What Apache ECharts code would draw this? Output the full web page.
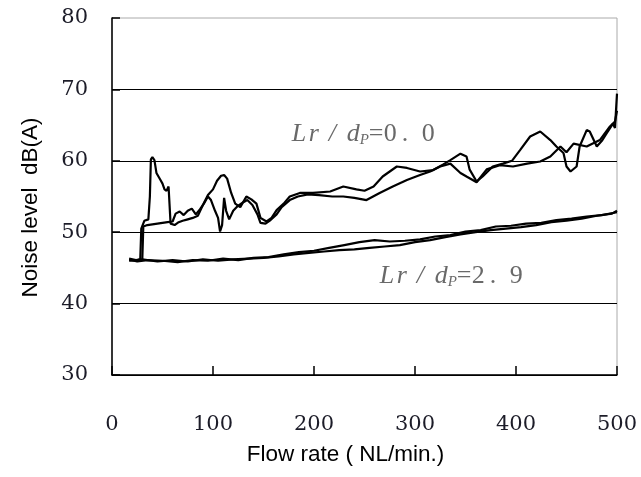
<!DOCTYPE html>
<html>
<head>
<meta charset="utf-8">
<script src="https://cdn.jsdelivr.net/npm/echarts@6/dist/echarts.min.js"></script>
<style>html,body{margin:0;padding:0;background:#fff;}#c{width:641px;height:477px;}</style>
</head>
<body>
<div id="c"></div>
<script>
// Lr/dP = 0.0, run 1
const upper1 = [[17,46.1],[24,46.0],[28,46.3],[29,50.5],[32,51.6],[36,51.8],[37.5,55],[38.5,60.2],[40,60.5],[42,60.1],[44,58.3],[46,57.8],[48,57.3],[50,56.8],[52,56.0],[54,55.8],[56,56.4],[57.5,56.5],[58,51.2],[62,51.0],[66,51.4],[70,51.6],[75,51.8],[80,52.0],[85,52.3],[90,53.8],[95,55.2],[100,56.0],[104,57.2],[108,57.9],[111,58.0],[114,57.5],[118,55.5],[122,54.0],[127,53.5],[133,55.0],[138,54.6],[143,54.0],[147,52.0],[153,51.5],[158,52.0],[163,53.1],[170,54.0],[176,55.0],[186,55.5],[199,55.5],[216,55.7],[229,56.4],[242,56.0],[250,55.8],[259,56.4],[268,57.8],[282,59.2],[292,59.0],[305,58.5],[318,58.7],[328,59.5],[335,60.1],[345,61.0],[351,60.6],[354,58.8],[361,57.1],[367,57.8],[377,59.2],[387,59.6],[396,60.0],[404,61.5],[414,63.4],[424,64.1],[434,62.9],[440,62.0],[447,61.1],[450,59.2],[454,58.5],[460,59.2],[463,62.0],[470,64.3],[473,64.1],[480,62.0],[485,62.8],[490,63.9],[496,65.2],[498,64.6],[500,69.4]];
// Lr/dP = 0.0, run 2
const upper2 = [[17,46.3],[27,46.0],[30,46.2],[31,50.8],[35,51.0],[45,51.2],[55,51.4],[60,51.5],[63,52.6],[67,52.9],[71,52.4],[75,53.0],[79,53.3],[83,52.5],[87,53.2],[91,54.0],[95,55.0],[98,54.5],[102,53.0],[105,52.0],[107,50.1],[109,51.0],[111,54.8],[113,53.0],[116,51.8],[120,53.0],[124,53.6],[130,54.2],[134,54.5],[139,53.8],[144,52.5],[147,51.3],[152,51.2],[157,51.7],[163,52.5],[168,53.5],[176,54.5],[184,55.0],[194,55.3],[205,55.2],[218,55.0],[229,55.0],[240,54.8],[252,54.5],[265,55.5],[278,56.4],[292,57.3],[305,58.0],[315,58.5],[325,59.2],[335,59.6],[345,58.3],[351,57.8],[361,57.0],[371,58.8],[384,59.4],[397,59.2],[411,59.6],[424,59.9],[434,60.6],[444,62.0],[450,61.2],[457,62.4],[470,62.0],[483,62.9],[493,64.8],[498,65.5],[500,67.0]];
// Lr/dP = 2.9, run 1
const lower1 = [[17,46.2],[25,45.9],[35,46.1],[50,46.0],[65,45.8],[80,46.1],[95,46.0],[110,46.3],[125,46.1],[140,46.4],[155,46.5],[170,46.9],[185,47.2],[200,47.4],[215,47.8],[230,48.2],[245,48.6],[260,48.9],[275,48.7],[290,48.8],[305,49.0],[320,49.4],[335,49.6],[350,50.1],[365,50.3],[380,50.8],[395,50.9],[410,51.2],[425,51.3],[440,51.7],[455,51.9],[470,52.2],[485,52.4],[500,52.8]];
// Lr/dP = 2.9, run 2
const lower2 = [[17,46.0],[30,46.2],[45,45.9],[60,46.1],[75,45.9],[90,46.2],[105,46.0],[120,46.2],[135,46.3],[150,46.4],[165,46.6],[180,46.9],[195,47.1],[210,47.3],[225,47.5],[240,47.6],[255,47.8],[270,48.0],[285,48.2],[300,48.6],[315,48.9],[330,49.3],[345,49.7],[360,50.0],[375,50.3],[390,50.5],[405,50.7],[420,51.0],[435,51.4],[450,51.6],[465,51.9],[480,52.3],[495,52.6],[500,53.0]];
// annotation anchors (data units) and label values
const annotations = [
  {pos: [178, 63.7], value: ['0', '0']},
  {pos: [265, 43.8], value: ['2', '9']}
];
const xTicks = [0, 100, 200, 300, 400, 500];
const yTicks = [30, 40, 50, 60, 70, 80];

const chart = echarts.init(document.getElementById('c'));
const lineStyle = {color: '#000', width: 2.2};
const mkLine = (d) => ({type: 'line', data: d, showSymbol: false, symbol: 'none', lineStyle: lineStyle, animation: false, z: 3});

const serif = 'Liberation Serif';
const annColor = '#444';
const tok = (w, extra) => Object.assign({fontFamily: serif, fontSize: 26, color: annColor, width: w}, extra || {});

chart.setOption({
  animation: false,
  grid: {left: 112, right: 24, top: 18, bottom: 102, show: true, borderColor: '#aaa', borderWidth: 1},
  xAxis: {
    type: 'value', min: xTicks[0], max: xTicks[xTicks.length - 1], interval: 100,
    name: 'Flow rate ( NL/min.)', nameLocation: 'middle', nameGap: 68,
    nameTextStyle: {fontFamily: 'Liberation Sans', fontSize: 22.5, color: '#000', padding: [0, 38, 0, 0]},
    axisLine: {show: true, lineStyle: {color: '#000', width: 1.5}},
    axisTick: {show: true, inside: true, length: 9, lineStyle: {color: '#000', width: 1.5}},
    axisLabel: {margin: 39, fontFamily: 'DejaVu Serif', fontSize: 21, color: '#1c1c28'},
    splitLine: {show: false}
  },
  yAxis: {
    type: 'value', min: yTicks[0], max: yTicks[yTicks.length - 1], interval: 10,
    name: 'Noise level  dB(A)', nameLocation: 'middle', nameGap: 70,
    nameTextStyle: {fontFamily: 'Liberation Sans', fontSize: 22.5, color: '#000', padding: [0, 22, 0, 0]},
    axisLine: {show: true, lineStyle: {color: '#000', width: 1.5}},
    axisTick: {show: true, inside: true, length: 8, lineStyle: {color: '#000', width: 1.5}},
    axisLabel: {margin: 24, fontFamily: 'DejaVu Serif', fontSize: 21, color: '#1c1c28'},
    splitLine: {show: true, showMaxLine: false, lineStyle: {color: '#000', width: 1}}
  },
  series: [
    mkLine(upper1), mkLine(upper2), mkLine(lower1), mkLine(lower2),
    {
      type: 'scatter', symbolSize: 0, silent: true, z: 5,
      data: annotations.map(a => ({value: a.pos, v: a.value})),
      label: {
        show: true, position: 'right', distance: 0,
        formatter: (p) => '{a|L}{b|r}{c|/}{d|d}{s|P}{e|=}{f|' + p.data.v[0] + '}{g|.}{h|' + p.data.v[1] + '}',
        rich: {
          a: tok(17, {fontStyle: 'italic'}),
          b: tok(20, {fontStyle: 'italic'}),
          c: tok(18, {fontStyle: 'italic'}),
          d: tok(13, {fontStyle: 'italic'}),
          s: tok(9, {fontStyle: 'italic', fontSize: 15, padding: [11, 0, 0, 0]}),
          e: tok(15),
          f: tok(18),
          g: tok(20),
          h: tok(17)
        }
      }
    }
  ]
});
</script>
</body>
</html>
